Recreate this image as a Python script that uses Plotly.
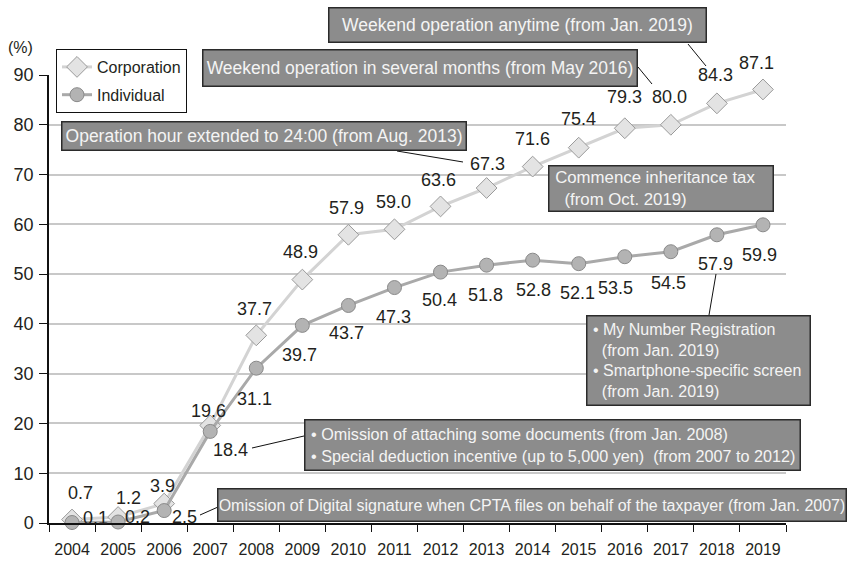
import plotly.graph_objects as go

# ---- data -------------------------------------------------------------
years = [str(y) for y in range(2004, 2020)]
corporation = [0.7, 1.2, 3.9, 19.6, 37.7, 48.9, 57.9, 59.0, 63.6, 67.3,
               71.6, 75.4, 79.3, 80.0, 84.3, 87.1]
individual = [0.1, 0.2, 2.5, 18.4, 31.1, 39.7, 43.7, 47.3, 50.4, 51.8,
              52.8, 52.1, 53.5, 54.5, 57.9, 59.9]
y_ticks = [0, 10, 20, 30, 40, 50, 60, 70, 80, 90]

# ---- label placement (pixel offsets from each marker: dx, dy-up) ----------
corp_shift = [(8, 27), (10, 19), (-2, 18), (-2, 14), (-2, 26), (-2, 28),
              (-2, 27), (-1, 27), (-2, 26), (1, 24), (0, 28), (0, 29),
              (0, 31), (-1, 28), (-1, 28), (-6, 26)]
indiv_shift = [(23, 5), (19, 5), (20, -6), (20, -19), (-2, -31), (-3, -30),
               (-2, -28), (-1, -29), (-1, -28), (-1, -30), (1, -30),
               (-1, -29), (-9, -31), (-2, -31), (-1, -29), (-3, -30)]

W, H = 849, 561
L, R, T, B = 49, 786, 75, 523   # plot area in page pixels


def px(x):
    return (x - L) / (R - L)


def py(y):
    return (B - y) / (B - T)


FONT = "Arial, Liberation Sans, sans-serif"
TXT = "#231f20"

fig = go.Figure()
fig.add_trace(go.Scatter(
    x=years, y=corporation, name="Corporation", mode="lines+markers",
    legendgroup="corp",
    line=dict(color="#d3d3d3", width=3),
    marker=dict(symbol="diamond", size=16, color="#e3e3e3",
                line=dict(color="#9a9a9a", width=1)),
    cliponaxis=False,
))
fig.add_trace(go.Scatter(
    x=years, y=individual, name="Individual", mode="lines+markers",
    legendgroup="indiv",
    line=dict(color="#a9a9a9", width=3),
    marker=dict(symbol="circle", size=14, color="#b3b3b3",
                line=dict(color="#8a8a8a", width=1)),
    cliponaxis=False,
))

annotations = []
# value labels: category axes take the category index as x
for i, (v, (dx, dy)) in enumerate(zip(corporation, corp_shift)):
    annotations.append(dict(x=i, y=v, xref="x", yref="y", text=f"{v:.1f}",
                            showarrow=False, xshift=dx, yshift=dy,
                            xanchor="center", yanchor="middle",
                            font=dict(family=FONT, size=18, color=TXT)))
for i, (v, (dx, dy)) in enumerate(zip(individual, indiv_shift)):
    annotations.append(dict(x=i, y=v, xref="x", yref="y", text=f"{v:.1f}",
                            showarrow=False, xshift=dx, yshift=dy,
                            xanchor="center", yanchor="middle",
                            font=dict(family=FONT, size=18, color=TXT)))

annotations.append(dict(x=px(20), y=py(48), xref="paper", yref="paper",
                        xanchor="center", yanchor="middle",
                        text="(%)", showarrow=False,
                        font=dict(family=FONT, size=16, color=TXT)))

# ---- callout boxes -------------------------------------------------------
S = "\u00a0"
boxes = [
    ("Weekend operation anytime (from Jan. 2019)", 328, 7, 379, 36, "center", 17.5),
    ("Weekend operation in several months (from May 2016)", 202, 49, 436, 38, "center", 17.5),
    ("Operation hour extended to 24:00 (from Aug. 2013)", 61, 121, 406, 30, "center", 17.5),
    (S + "Commence inheritance tax<br>" + S * 3 + "(from Oct. 2019)",
     548, 165, 226, 47, "left", 16.8),
    (S + "• My Number Registration<br>" + S * 3 + "(from Jan. 2019)<br>"
     + S + "• Smartphone-specific screen<br>" + S * 3 + "(from Jan. 2019)",
     586, 315, 225, 91, "left", 16),
    (S + "• Omission of attaching some documents (from Jan. 2008)<br>"
     + S + "• Special deduction incentive (up to 5,000 yen)" + S * 2 + "(from 2007 to 2012)",
     304, 419, 497, 52, "left", 16.2),
    ("Omission of Digital signature when CPTA files on behalf of the taxpayer (from Jan. 2007)",
     217, 488, 630, 34, "center", 16),
]
BW = 1.5
PAD = 1
for text, x0, y0, w, h, align, fs in boxes:
    full = BW + PAD
    annotations.append(dict(
        x=px(x0), y=py(y0), xref="paper", yref="paper",
        xanchor="left", yanchor="top", text=text, showarrow=False,
        align=align, valign="middle",
        width=w - 2 * full, height=h - 2 * full,
        bgcolor="#8c8c8c", bordercolor="#2b2b2b", borderwidth=BW,
        borderpad=PAD,
        font=dict(family=FONT, size=fs, color="#f4f4f4"),
    ))

# ---- leader lines ----------------------------------------------------------
leaders = [
    (688, 44, 706, 66),
    (638, 67, 652, 84),
    (397, 151, 463, 162),
    (709, 315, 716, 274),
    (252, 448, 304, 436),
    (200, 515, 218, 507),
]
shapes = [dict(type="line", xref="paper", yref="paper",
               x0=px(a), y0=py(b), x1=px(c), y1=py(d),
               line=dict(color="#111111", width=1))
          for a, b, c, d in leaders]

fig.update_layout(
    width=W, height=H,
    margin=dict(l=L, r=W - R, t=T, b=H - B, pad=0, autoexpand=False),
    paper_bgcolor="white", plot_bgcolor="white",
    font=dict(family=FONT, color=TXT),
    showlegend=True,
    legend=dict(x=px(56), y=py(49), xanchor="left", yanchor="top",
                bgcolor="white", bordercolor="#111111", borderwidth=1,
                font=dict(family=FONT, size=16, color=TXT),
                itemwidth=30, tracegroupgap=4),
    annotations=annotations,
    shapes=shapes,
    xaxis=dict(type="category", range=[-0.5, 15.5], showgrid=False,
               automargin=False,
               showline=True, linecolor="#111111", linewidth=1.5,
               ticks="outside", ticklen=7, tickcolor="#111111",
               tickson="boundaries", tickwidth=1,
               tickfont=dict(family=FONT, size=16, color=TXT),
               ticklabelstandoff=11, zeroline=False),
    yaxis=dict(range=[0, 90], tickvals=y_ticks, showgrid=True,
               automargin=False,
               gridcolor="#c8c8c8", gridwidth=1.5,
               showline=True, linecolor="#111111", linewidth=1.5,
               ticks="outside", ticklen=8, tickcolor="#111111",
               tickfont=dict(family=FONT, size=18, color=TXT),
               ticklabelstandoff=2, zeroline=False),
)

fig.write_html("out.html")
